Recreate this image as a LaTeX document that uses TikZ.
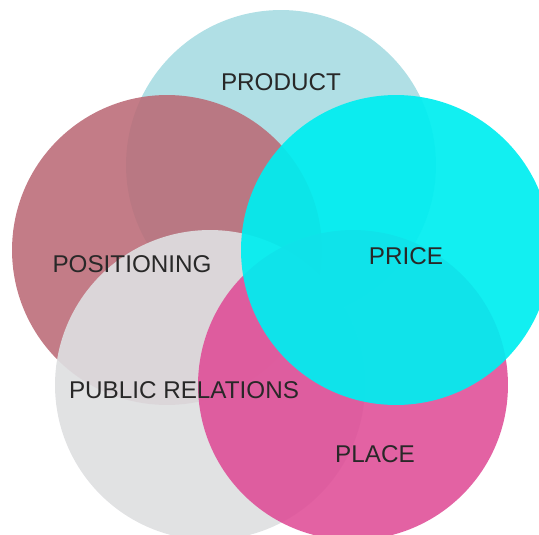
\documentclass[tikz,border=0pt]{standalone}
\usepackage{fontspec}
\setmainfont{Liberation Sans}
\definecolor{productblue}{RGB}{165,219,225}
\definecolor{positionrose}{RGB}{187,106,118}
\definecolor{relationgrey}{RGB}{222,223,225}
\definecolor{placepink}{RGB}{223,76,150}
\definecolor{pricecyan}{RGB}{0,238,240}
\definecolor{labelgrey}{RGB}{40,40,40}
\tikzstyle{petal} = [
 circle,
 draw=none,
 inner sep=0pt,
 minimum size=6.2cm,
 fill opacity=0.88
]
\tikzstyle{caption} = [
 text=labelgrey,
 inner sep=0pt,
 font=\fontsize{13.8}{16}\selectfont
]

\begin{document}
\begin{tikzpicture}[x={(0.02cm,0)}, y={(0,-0.02cm)}]
  \useasboundingbox (0,0) rectangle (539,535);
  % circles, back to front
  \node [petal, fill=productblue] (product) at (281,165) {};
  \node [petal, fill=positionrose] (positioning) at (167,250) {};
  \node [petal, fill=relationgrey, fill opacity=0.92] (relations) at (210,385) {};
  \node [petal, fill=placepink] (place) at (353,385) {};
  \node [petal, fill=pricecyan, fill opacity=0.93] (price) at (396,250) {};
  % labels
  \node [caption] (productText) at (281,82) {PRODUCT};
  \node [caption] (positioningText) at (132,264) {POSITIONING};
  \node [caption] (priceText) at (406,256) {PRICE};
  \node [caption] (relationsText) at (184,390) {PUBLIC RELATIONS};
  \node [caption] (placeText) at (375,454) {PLACE};
\end{tikzpicture}
\end{document}
